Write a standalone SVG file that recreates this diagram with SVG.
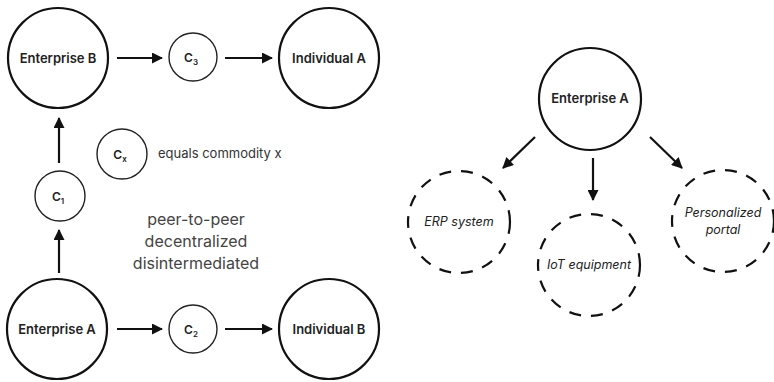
<svg xmlns="http://www.w3.org/2000/svg" width="774" height="382" viewBox="0 0 774 382">
<defs>
<marker id="ah" markerWidth="11" markerHeight="11" refX="10" refY="5.5" orient="auto" markerUnits="userSpaceOnUse">
<path d="M0,0 L11,5.5 L0,11 Z" fill="#111"/>
</marker>
<style>
.big{fill:#fff;stroke:#111;stroke-width:2.2}
.small{fill:#fff;stroke:#222;stroke-width:1.4}
.dash{fill:#fff;stroke:#111;stroke-width:2.2;stroke-dasharray:12 10}
.lbl{font-family:Inter,"Liberation Sans",sans-serif;font-size:13px;font-weight:600;fill:#222;text-anchor:middle}
.it{font-family:Inter,"Liberation Sans",sans-serif;font-size:12.5px;font-style:italic;fill:#222;text-anchor:middle}
.c{font-family:Inter,"Liberation Sans",sans-serif;font-size:12px;font-weight:600;fill:#222;text-anchor:middle}
.note{font-family:Inter,"Liberation Sans",sans-serif;font-size:13px;fill:#333}
.mid{font-family:Inter,"Liberation Sans",sans-serif;font-size:16px;fill:#444;text-anchor:middle}
.con{stroke:#111;stroke-width:2.2;fill:none;marker-end:url(#ah)}
</style>
</defs>
<rect width="774" height="382" fill="#fff"/>
<g id="connectors">
<line class="con" x1="117" y1="58" x2="162" y2="58"/>
<line class="con" x1="225" y1="58" x2="272" y2="58"/>
<line class="con" x1="117" y1="329" x2="162" y2="329"/>
<line class="con" x1="225" y1="329" x2="272" y2="329"/>
<line class="con" x1="59" y1="273" x2="59" y2="230"/>
<line class="con" x1="59" y1="163" x2="59" y2="118"/>
<line class="con" x1="535" y1="137" x2="503" y2="168"/>
<line class="con" x1="593" y1="158" x2="593" y2="200"/>
<line class="con" x1="650" y1="137" x2="682" y2="168"/>
</g>
<g id="enterprise-b"><circle class="big" cx="58" cy="58" r="50"/><text class="lbl" x="58" y="63">Enterprise B</text></g>
<g id="c3"><circle class="small" cx="193" cy="57" r="24"/><text class="c" x="191" y="62">C<tspan font-size="8" dy="3">3</tspan></text></g>
<g id="individual-a"><circle class="big" cx="329" cy="58" r="50"/><text class="lbl" x="329" y="63">Individual A</text></g>
<g id="cx"><circle class="small" cx="122" cy="154" r="25"/><text class="c" x="120" y="159">C<tspan font-size="8" dy="3">x</tspan></text></g>
<g id="cx-note"><text class="note" x="158" y="158">equals commodity x</text></g>
<g id="c1"><circle class="small" cx="60" cy="196" r="25"/><text class="c" x="58" y="201">C<tspan font-size="8" dy="3">1</tspan></text></g>
<g id="description"><text class="mid" x="196" y="225">peer-to-peer</text><text class="mid" x="196" y="247">decentralized</text><text class="mid" x="196" y="269">disintermediated</text></g>
<g id="enterprise-a-left"><circle class="big" cx="57" cy="329" r="50"/><text class="lbl" x="57" y="334">Enterprise A</text></g>
<g id="c2"><circle class="small" cx="193" cy="329" r="24"/><text class="c" x="191" y="334">C<tspan font-size="8" dy="3">2</tspan></text></g>
<g id="individual-b"><circle class="big" cx="329" cy="329" r="50"/><text class="lbl" x="329" y="334">Individual B</text></g>
<g id="enterprise-a-right"><circle class="big" cx="590" cy="99" r="51"/><text class="lbl" x="590" y="103">Enterprise A</text></g>
<g id="erp"><circle class="dash" cx="459" cy="222" r="51"/><text class="it" x="459" y="226">ERP system</text></g>
<g id="iot"><circle class="dash" cx="589" cy="265" r="51"/><text class="it" x="589" y="269">IoT equipment</text></g>
<g id="portal"><circle class="dash" cx="723" cy="221" r="51"/><text class="it" x="723" y="217">Personalized</text><text class="it" x="723" y="234">portal</text></g>
</svg>
